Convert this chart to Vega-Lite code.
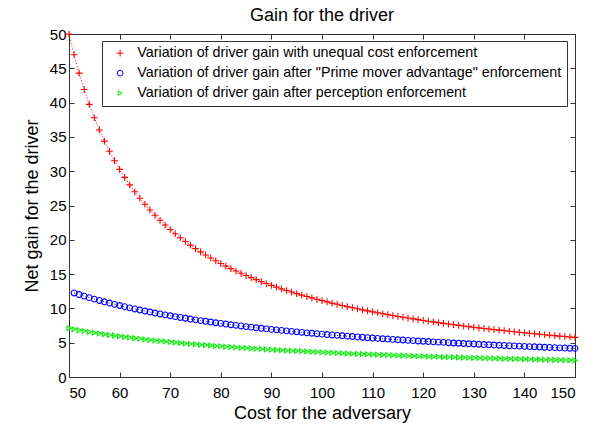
{
  "$schema": "https://vega.github.io/schema/vega-lite/v6.json",
  "width": 506,
  "height": 343,
  "autosize": {"type": "none"},
  "padding": {"left": 69, "top": 34, "right": 22, "bottom": 53},
  "background": "white",
  "title": {"text": "Gain for the driver", "fontSize": 18, "fontWeight": "normal", "font": "Liberation Sans", "color": "black", "anchor": "middle", "offset": 2},
  "config": {
    "font": "Liberation Sans",
    "view": {"stroke": "#333333", "strokeWidth": 1},
    "axis": {"grid": false, "domainColor": "#333333", "tickColor": "#333333", "tickWidth": 1, "labelColor": "black", "titleColor": "black", "labelFontSize": 15, "titleFontSize": 18, "titleFontWeight": "normal", "tickSize": -5, "labelPadding": 8},
    "legend": {"orient": "none", "legendX": 33, "legendY": 7, "strokeColor": "#333333", "fillColor": "white", "padding": 5, "labelFontSize": 14.3, "labelLimit": 0, "labelColor": "black", "symbolSize": 40, "symbolStrokeWidth": 1, "symbolOffset": 6, "rowPadding": 5, "labelOffset": 10, "title": null}
  },
  "data": {"values": [
{"s":"A","x":50,"y":50.00},{"s":"A","x":51,"y":46.98},{"s":"A","x":52,"y":44.30},{"s":"A","x":53,"y":41.90},{"s":"A","x":54,"y":39.74},{"s":"A","x":55,"y":37.79},{"s":"A","x":56,"y":36.01},{"s":"A","x":57,"y":34.39},{"s":"A","x":58,"y":32.90},{"s":"A","x":59,"y":31.53},
{"s":"A","x":60,"y":30.27},{"s":"A","x":61,"y":29.10},{"s":"A","x":62,"y":28.01},{"s":"A","x":63,"y":27.00},{"s":"A","x":64,"y":26.06},{"s":"A","x":65,"y":25.18},{"s":"A","x":66,"y":24.35},{"s":"A","x":67,"y":23.57},{"s":"A","x":68,"y":22.84},{"s":"A","x":69,"y":22.15},
{"s":"A","x":70,"y":21.50},{"s":"A","x":71,"y":20.88},{"s":"A","x":72,"y":20.30},{"s":"A","x":73,"y":19.75},{"s":"A","x":74,"y":19.22},{"s":"A","x":75,"y":18.72},{"s":"A","x":76,"y":18.24},{"s":"A","x":77,"y":17.79},{"s":"A","x":78,"y":17.35},{"s":"A","x":79,"y":16.94},
{"s":"A","x":80,"y":16.54},{"s":"A","x":81,"y":16.16},{"s":"A","x":82,"y":15.80},{"s":"A","x":83,"y":15.45},{"s":"A","x":84,"y":15.12},{"s":"A","x":85,"y":14.79},{"s":"A","x":86,"y":14.48},{"s":"A","x":87,"y":14.19},{"s":"A","x":88,"y":13.90},{"s":"A","x":89,"y":13.62},
{"s":"A","x":90,"y":13.36},{"s":"A","x":91,"y":13.10},{"s":"A","x":92,"y":12.85},{"s":"A","x":93,"y":12.61},{"s":"A","x":94,"y":12.38},{"s":"A","x":95,"y":12.16},{"s":"A","x":96,"y":11.94},{"s":"A","x":97,"y":11.73},{"s":"A","x":98,"y":11.53},{"s":"A","x":99,"y":11.33},
{"s":"A","x":100,"y":11.14},{"s":"A","x":101,"y":10.95},{"s":"A","x":102,"y":10.77},{"s":"A","x":103,"y":10.60},{"s":"A","x":104,"y":10.43},{"s":"A","x":105,"y":10.26},{"s":"A","x":106,"y":10.10},{"s":"A","x":107,"y":9.94},{"s":"A","x":108,"y":9.79},{"s":"A","x":109,"y":9.64},
{"s":"A","x":110,"y":9.50},{"s":"A","x":111,"y":9.36},{"s":"A","x":112,"y":9.22},{"s":"A","x":113,"y":9.09},{"s":"A","x":114,"y":8.96},{"s":"A","x":115,"y":8.83},{"s":"A","x":116,"y":8.71},{"s":"A","x":117,"y":8.59},{"s":"A","x":118,"y":8.47},{"s":"A","x":119,"y":8.36},
{"s":"A","x":120,"y":8.24},{"s":"A","x":121,"y":8.13},{"s":"A","x":122,"y":8.03},{"s":"A","x":123,"y":7.92},{"s":"A","x":124,"y":7.82},{"s":"A","x":125,"y":7.72},{"s":"A","x":126,"y":7.62},{"s":"A","x":127,"y":7.53},{"s":"A","x":128,"y":7.43},{"s":"A","x":129,"y":7.34},
{"s":"A","x":130,"y":7.25},{"s":"A","x":131,"y":7.16},{"s":"A","x":132,"y":7.08},{"s":"A","x":133,"y":6.99},{"s":"A","x":134,"y":6.91},{"s":"A","x":135,"y":6.83},{"s":"A","x":136,"y":6.75},{"s":"A","x":137,"y":6.67},{"s":"A","x":138,"y":6.59},{"s":"A","x":139,"y":6.52},
{"s":"A","x":140,"y":6.44},{"s":"A","x":141,"y":6.37},{"s":"A","x":142,"y":6.30},{"s":"A","x":143,"y":6.23},{"s":"A","x":144,"y":6.16},{"s":"A","x":145,"y":6.09},{"s":"A","x":146,"y":6.03},{"s":"A","x":147,"y":5.96},{"s":"A","x":148,"y":5.90},{"s":"A","x":149,"y":5.84},
{"s":"A","x":150,"y":5.78},
{"s":"B","x":51,"y":12.25},{"s":"B","x":52,"y":12.02},{"s":"B","x":53,"y":11.79},{"s":"B","x":54,"y":11.57},{"s":"B","x":55,"y":11.36},{"s":"B","x":56,"y":11.16},{"s":"B","x":57,"y":10.96},{"s":"B","x":58,"y":10.78},{"s":"B","x":59,"y":10.59},
{"s":"B","x":60,"y":10.42},{"s":"B","x":61,"y":10.25},{"s":"B","x":62,"y":10.08},{"s":"B","x":63,"y":9.92},{"s":"B","x":64,"y":9.77},{"s":"B","x":65,"y":9.62},{"s":"B","x":66,"y":9.47},{"s":"B","x":67,"y":9.33},{"s":"B","x":68,"y":9.19},{"s":"B","x":69,"y":9.06},
{"s":"B","x":70,"y":8.93},{"s":"B","x":71,"y":8.80},{"s":"B","x":72,"y":8.68},{"s":"B","x":73,"y":8.56},{"s":"B","x":74,"y":8.45},{"s":"B","x":75,"y":8.33},{"s":"B","x":76,"y":8.22},{"s":"B","x":77,"y":8.12},{"s":"B","x":78,"y":8.01},{"s":"B","x":79,"y":7.91},
{"s":"B","x":80,"y":7.81},{"s":"B","x":81,"y":7.72},{"s":"B","x":82,"y":7.62},{"s":"B","x":83,"y":7.53},{"s":"B","x":84,"y":7.44},{"s":"B","x":85,"y":7.35},{"s":"B","x":86,"y":7.27},{"s":"B","x":87,"y":7.18},{"s":"B","x":88,"y":7.10},{"s":"B","x":89,"y":7.02},
{"s":"B","x":90,"y":6.94},{"s":"B","x":91,"y":6.87},{"s":"B","x":92,"y":6.79},{"s":"B","x":93,"y":6.72},{"s":"B","x":94,"y":6.65},{"s":"B","x":95,"y":6.58},{"s":"B","x":96,"y":6.51},{"s":"B","x":97,"y":6.44},{"s":"B","x":98,"y":6.38},{"s":"B","x":99,"y":6.31},
{"s":"B","x":100,"y":6.25},{"s":"B","x":101,"y":6.19},{"s":"B","x":102,"y":6.13},{"s":"B","x":103,"y":6.07},{"s":"B","x":104,"y":6.01},{"s":"B","x":105,"y":5.95},{"s":"B","x":106,"y":5.90},{"s":"B","x":107,"y":5.84},{"s":"B","x":108,"y":5.79},{"s":"B","x":109,"y":5.73},
{"s":"B","x":110,"y":5.68},{"s":"B","x":111,"y":5.63},{"s":"B","x":112,"y":5.58},{"s":"B","x":113,"y":5.53},{"s":"B","x":114,"y":5.48},{"s":"B","x":115,"y":5.43},{"s":"B","x":116,"y":5.39},{"s":"B","x":117,"y":5.34},{"s":"B","x":118,"y":5.30},{"s":"B","x":119,"y":5.25},
{"s":"B","x":120,"y":5.21},{"s":"B","x":121,"y":5.17},{"s":"B","x":122,"y":5.12},{"s":"B","x":123,"y":5.08},{"s":"B","x":124,"y":5.04},{"s":"B","x":125,"y":5.00},{"s":"B","x":126,"y":4.96},{"s":"B","x":127,"y":4.92},{"s":"B","x":128,"y":4.88},{"s":"B","x":129,"y":4.84},
{"s":"B","x":130,"y":4.81},{"s":"B","x":131,"y":4.77},{"s":"B","x":132,"y":4.73},{"s":"B","x":133,"y":4.70},{"s":"B","x":134,"y":4.66},{"s":"B","x":135,"y":4.63},{"s":"B","x":136,"y":4.60},{"s":"B","x":137,"y":4.56},{"s":"B","x":138,"y":4.53},{"s":"B","x":139,"y":4.50},
{"s":"B","x":140,"y":4.46},{"s":"B","x":141,"y":4.43},{"s":"B","x":142,"y":4.40},{"s":"B","x":143,"y":4.37},{"s":"B","x":144,"y":4.34},{"s":"B","x":145,"y":4.31},{"s":"B","x":146,"y":4.28},{"s":"B","x":147,"y":4.25},{"s":"B","x":148,"y":4.22},{"s":"B","x":149,"y":4.19},
{"s":"B","x":150,"y":4.17},
{"s":"C","x":50,"y":7.10},{"s":"C","x":51,"y":6.96},{"s":"C","x":52,"y":6.83},{"s":"C","x":53,"y":6.70},{"s":"C","x":54,"y":6.58},{"s":"C","x":55,"y":6.46},{"s":"C","x":56,"y":6.35},{"s":"C","x":57,"y":6.24},{"s":"C","x":58,"y":6.13},{"s":"C","x":59,"y":6.03},
{"s":"C","x":60,"y":5.93},{"s":"C","x":61,"y":5.84},{"s":"C","x":62,"y":5.75},{"s":"C","x":63,"y":5.66},{"s":"C","x":64,"y":5.57},{"s":"C","x":65,"y":5.48},{"s":"C","x":66,"y":5.40},{"s":"C","x":67,"y":5.32},{"s":"C","x":68,"y":5.25},{"s":"C","x":69,"y":5.17},
{"s":"C","x":70,"y":5.10},{"s":"C","x":71,"y":5.03},{"s":"C","x":72,"y":4.96},{"s":"C","x":73,"y":4.89},{"s":"C","x":74,"y":4.83},{"s":"C","x":75,"y":4.77},{"s":"C","x":76,"y":4.71},{"s":"C","x":77,"y":4.65},{"s":"C","x":78,"y":4.59},{"s":"C","x":79,"y":4.53},
{"s":"C","x":80,"y":4.48},{"s":"C","x":81,"y":4.42},{"s":"C","x":82,"y":4.37},{"s":"C","x":83,"y":4.32},{"s":"C","x":84,"y":4.27},{"s":"C","x":85,"y":4.22},{"s":"C","x":86,"y":4.17},{"s":"C","x":87,"y":4.12},{"s":"C","x":88,"y":4.08},{"s":"C","x":89,"y":4.03},
{"s":"C","x":90,"y":3.99},{"s":"C","x":91,"y":3.95},{"s":"C","x":92,"y":3.90},{"s":"C","x":93,"y":3.86},{"s":"C","x":94,"y":3.82},{"s":"C","x":95,"y":3.78},{"s":"C","x":96,"y":3.75},{"s":"C","x":97,"y":3.71},{"s":"C","x":98,"y":3.67},{"s":"C","x":99,"y":3.64},
{"s":"C","x":100,"y":3.60},{"s":"C","x":101,"y":3.57},{"s":"C","x":102,"y":3.53},{"s":"C","x":103,"y":3.50},{"s":"C","x":104,"y":3.47},{"s":"C","x":105,"y":3.43},{"s":"C","x":106,"y":3.40},{"s":"C","x":107,"y":3.37},{"s":"C","x":108,"y":3.34},{"s":"C","x":109,"y":3.31},
{"s":"C","x":110,"y":3.28},{"s":"C","x":111,"y":3.25},{"s":"C","x":112,"y":3.23},{"s":"C","x":113,"y":3.20},{"s":"C","x":114,"y":3.17},{"s":"C","x":115,"y":3.14},{"s":"C","x":116,"y":3.12},{"s":"C","x":117,"y":3.09},{"s":"C","x":118,"y":3.07},{"s":"C","x":119,"y":3.04},
{"s":"C","x":120,"y":3.02},{"s":"C","x":121,"y":2.99},{"s":"C","x":122,"y":2.97},{"s":"C","x":123,"y":2.95},{"s":"C","x":124,"y":2.92},{"s":"C","x":125,"y":2.90},{"s":"C","x":126,"y":2.88},{"s":"C","x":127,"y":2.86},{"s":"C","x":128,"y":2.83},{"s":"C","x":129,"y":2.81},
{"s":"C","x":130,"y":2.79},{"s":"C","x":131,"y":2.77},{"s":"C","x":132,"y":2.75},{"s":"C","x":133,"y":2.73},{"s":"C","x":134,"y":2.71},{"s":"C","x":135,"y":2.69},{"s":"C","x":136,"y":2.67},{"s":"C","x":137,"y":2.65},{"s":"C","x":138,"y":2.64},{"s":"C","x":139,"y":2.62},
{"s":"C","x":140,"y":2.60},{"s":"C","x":141,"y":2.58},{"s":"C","x":142,"y":2.56},{"s":"C","x":143,"y":2.55},{"s":"C","x":144,"y":2.53},{"s":"C","x":145,"y":2.51},{"s":"C","x":146,"y":2.50},{"s":"C","x":147,"y":2.48},{"s":"C","x":148,"y":2.46},{"s":"C","x":149,"y":2.45},
{"s":"C","x":150,"y":2.43}
  ]},
  "layer": [
    {
      "mark": {"type": "line", "strokeDash": [1, 2], "strokeWidth": 1},
      "encoding": {
        "x": {"field": "x", "type": "quantitative", "scale": {"domain": [50, 150], "nice": false, "zero": false}, "axis": {"orient": "bottom", "values": [50,60,70,80,90,100,110,120,130,140,150], "title": "Cost for the adversary", "titlePadding": 4, "labelPadding": 13}},
        "y": {"field": "y", "type": "quantitative", "scale": {"domain": [0, 50], "nice": false}, "axis": {"orient": "left", "values": [0,5,10,15,20,25,30,35,40,45,50], "title": "Net gain for the driver", "titlePadding": 8}},
        "color": {"field": "s", "type": "nominal", "scale": {"domain": ["A", "B", "C"], "range": ["#ff0000", "#0000ff", "#00ee00"]}, "legend": {"labelExpr": "datum.label == 'A' ? 'Variation of driver gain with unequal cost enforcement' : datum.label == 'B' ? 'Variation of driver gain after \"Prime mover advantage\" enforcement' : 'Variation of driver gain after perception enforcement'"}},
        "detail": {"field": "s"}
      }
    },
    {
      "mark": {"type": "point", "filled": false, "strokeWidth": 1.1, "opacity": 1},
      "encoding": {
        "x": {"field": "x", "type": "quantitative", "axis": {"orient": "top", "values": [50,60,70,80,90,100,110,120,130,140,150], "labels": false, "title": null}},
        "y": {"field": "y", "type": "quantitative", "axis": {"orient": "right", "values": [0,5,10,15,20,25,30,35,40,45,50], "labels": false, "title": null}},
        "color": {"field": "s", "type": "nominal", "legend": {"labelExpr": "datum.label == 'A' ? 'Variation of driver gain with unequal cost enforcement' : datum.label == 'B' ? 'Variation of driver gain after \"Prime mover advantage\" enforcement' : 'Variation of driver gain after perception enforcement'"}},
        "shape": {"field": "s", "type": "nominal", "scale": {"domain": ["A", "B", "C"], "range": ["M-1,0H1M0,-1V1", "circle", "triangle-right"]}, "legend": {"labelExpr": "datum.label == 'A' ? 'Variation of driver gain with unequal cost enforcement' : datum.label == 'B' ? 'Variation of driver gain after \"Prime mover advantage\" enforcement' : 'Variation of driver gain after perception enforcement'"}},
        "size": {"field": "s", "type": "nominal", "scale": {"domain": ["A", "B", "C"], "range": [45, 22, 30]}, "legend": null}
      }
    }
  ],
  "resolve": {"axis": {"x": "independent", "y": "independent"}}
}
